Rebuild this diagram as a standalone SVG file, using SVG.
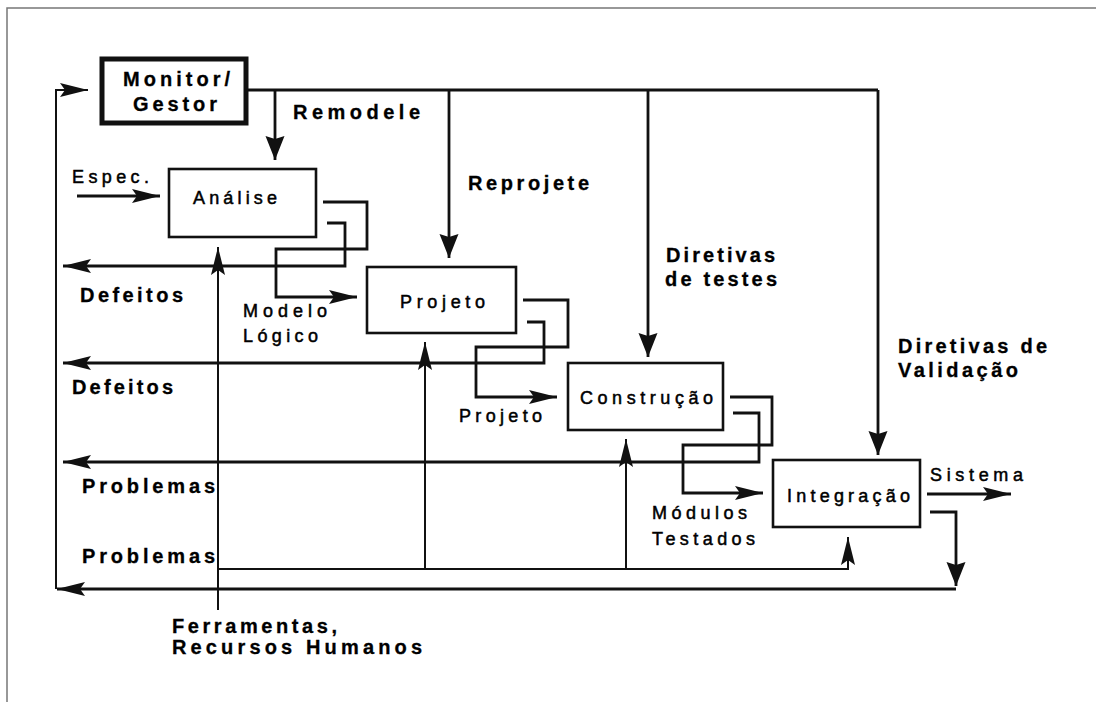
<svg xmlns="http://www.w3.org/2000/svg" width="1096" height="702" viewBox="0 0 1096 702">
  <style>
    .frame { fill: none; stroke: #777; stroke-width: 1.5; }
    .box { fill: #fff; stroke: #111; stroke-width: 2.6; }
    .boxHeavy { fill: #fff; stroke: #111; stroke-width: 5; }
    .wire { fill: none; stroke: #111; stroke-width: 2.8; stroke-linejoin: miter; }
    .thin { fill: none; stroke: #111; stroke-width: 2; }
    .bold { font-family: "Liberation Sans", Arial, sans-serif; font-weight: bold; font-size: 20px; fill: #000; stroke: #000; stroke-width: 0.3; }
    .reg { font-family: "Liberation Sans", Arial, sans-serif; font-size: 18px; fill: #000; stroke: #000; stroke-width: 0.5; }
  </style>
  <defs>
    <marker id="arrowHead" markerUnits="userSpaceOnUse" markerWidth="32" markerHeight="18" viewBox="0 -9 32 18" refX="28" refY="0" orient="auto">
      <path d="M0,-7 L28,0 L0,7 L5,0 Z" fill="#111"/>
    </marker>
    <marker id="dropHead" markerUnits="userSpaceOnUse" markerWidth="28" markerHeight="22" viewBox="0 -11 28 22" refX="24" refY="0" orient="auto">
      <path d="M0,-9.5 L24,0 L0,9.5 L3,0 Z" fill="#111"/>
    </marker>
  </defs>

  <!-- page frame -->
  <path class="frame" d="M7,702 V8 H1096"/>

  <!-- connectors -->
  <g id="connectors">
    <!-- directive bus from the monitor -->
    <path class="wire" d="M248,90 H878"/>
    <path class="wire" d="M275,90 V160" marker-end="url(#dropHead)"/>
    <path class="wire" d="M449,90 V258" marker-end="url(#dropHead)"/>
    <path class="wire" d="M648,90 V357" marker-end="url(#dropHead)"/>
    <path class="wire" d="M878,90 V455" marker-end="url(#dropHead)"/>

    <!-- specification input -->
    <path class="wire" d="M77,196 H160" marker-end="url(#arrowHead)"/>

    <!-- stage outputs (forward) -->
    <path class="wire" d="M323,202 H367 V249 H276 V297 H357" marker-end="url(#arrowHead)"/>
    <path class="wire" d="M523,300 H568 V347 H476 V397 H557" marker-end="url(#arrowHead)"/>
    <path class="wire" d="M730,397 H772 V445 H683 V493 H763" marker-end="url(#arrowHead)"/>
    <path class="wire" d="M927,494 H1011" marker-end="url(#arrowHead)"/>

    <!-- stage feedback (backward) -->
    <path class="wire" d="M327,223 H345 V266 H63" marker-end="url(#arrowHead)"/>
    <path class="wire" d="M527,322 H544 V363 H63" marker-end="url(#arrowHead)"/>
    <path class="wire" d="M733,413 H759 V462 H63" marker-end="url(#arrowHead)"/>
    <path class="wire" d="M930,512 H956 V586" marker-end="url(#dropHead)"/>
    <path class="wire" d="M956,589 H57" marker-end="url(#arrowHead)"/>
    <path class="thin" d="M56,589 V90 H88" marker-end="url(#arrowHead)"/>

    <!-- tools and human resources -->
    <path class="thin" d="M218,610 V247" marker-end="url(#arrowHead)"/>
    <path class="thin" d="M218,569 H848 V537" marker-end="url(#arrowHead)"/>
    <path class="thin" d="M425,569 V342" marker-end="url(#arrowHead)"/>
    <path class="thin" d="M626,569 V439" marker-end="url(#arrowHead)"/>
  </g>

  <!-- nodes -->
  <g id="monitor">
    <rect class="boxHeavy" x="102" y="59" width="144" height="64"/>
    <text class="bold" x="123" y="86" textLength="107" lengthAdjust="spacing">Monitor/</text>
    <text class="bold" x="133" y="111" textLength="84" lengthAdjust="spacing">Gestor</text>
  </g>
  <g id="analise">
    <rect class="box" x="169" y="169" width="147" height="68"/>
    <text class="reg" x="193" y="204" textLength="84" lengthAdjust="spacing">Análise</text>
  </g>
  <g id="projeto">
    <rect class="box" x="367" y="267" width="149" height="66"/>
    <text class="reg" x="400" y="308" textLength="85" lengthAdjust="spacing">Projeto</text>
  </g>
  <g id="construcao">
    <rect class="box" x="568" y="363" width="155" height="67"/>
    <text class="reg" x="580" y="404" textLength="133" lengthAdjust="spacing">Construção</text>
  </g>
  <g id="integracao">
    <rect class="box" x="773" y="460" width="147" height="67"/>
    <text class="reg" x="787" y="502" textLength="123" lengthAdjust="spacing">Integração</text>
  </g>

  <!-- connector labels -->
  <g id="labels">
    <text class="bold" x="293" y="119" textLength="127" lengthAdjust="spacing">Remodele</text>
    <text class="bold" x="468" y="190" textLength="121" lengthAdjust="spacing">Reprojete</text>
    <text class="bold" x="666" y="262" textLength="109" lengthAdjust="spacing">Diretivas</text>
    <text class="bold" x="665" y="286" textLength="112" lengthAdjust="spacing">de testes</text>
    <text class="bold" x="898" y="353" textLength="149" lengthAdjust="spacing">Diretivas de</text>
    <text class="bold" x="898" y="377" textLength="120" lengthAdjust="spacing">Validação</text>

    <text class="reg" x="72" y="183" textLength="77" lengthAdjust="spacing">Espec.</text>
    <text class="reg" x="243" y="317" textLength="84" lengthAdjust="spacing">Modelo</text>
    <text class="reg" x="243" y="342" textLength="75" lengthAdjust="spacing">Lógico</text>
    <text class="reg" x="459" y="422" textLength="83" lengthAdjust="spacing">Projeto</text>
    <text class="reg" x="652" y="519" textLength="95" lengthAdjust="spacing">Módulos</text>
    <text class="reg" x="652" y="545" textLength="103" lengthAdjust="spacing">Testados</text>
    <text class="reg" x="930" y="481" textLength="93" lengthAdjust="spacing">Sistema</text>

    <text class="bold" x="80" y="302" textLength="103" lengthAdjust="spacing">Defeitos</text>
    <text class="bold" x="72" y="394" textLength="101" lengthAdjust="spacing">Defeitos</text>
    <text class="bold" x="82" y="493" textLength="133" lengthAdjust="spacing">Problemas</text>
    <text class="bold" x="82" y="563" textLength="133" lengthAdjust="spacing">Problemas</text>
    <text class="bold" x="172" y="633" textLength="165" lengthAdjust="spacing">Ferramentas,</text>
    <text class="bold" x="172" y="654" textLength="250" lengthAdjust="spacing">Recursos Humanos</text>
  </g>
</svg>
